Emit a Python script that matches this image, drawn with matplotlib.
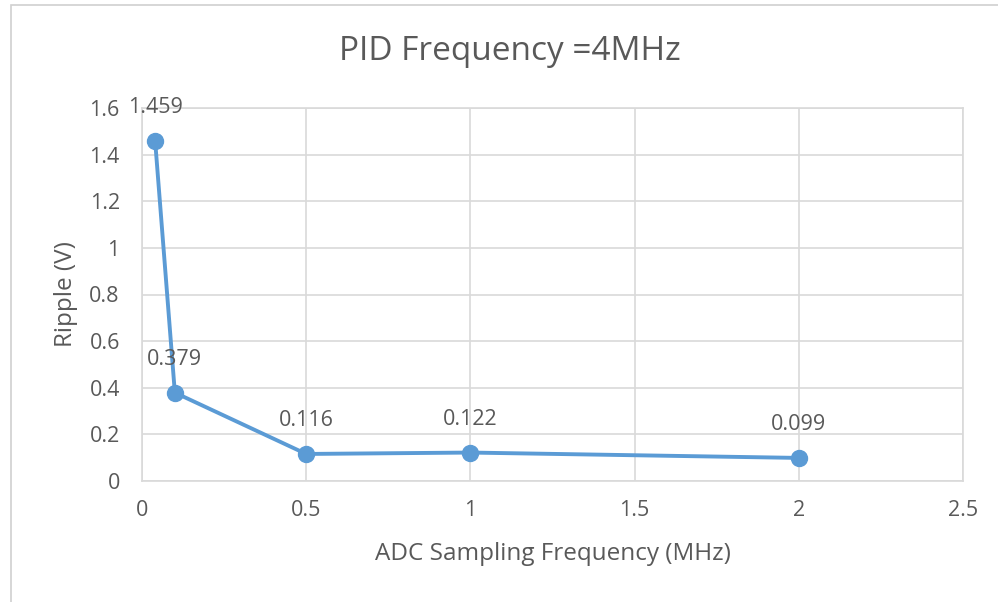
import matplotlib.pyplot as plt
from matplotlib.patches import Rectangle

# ADC sampling frequency (MHz) vs. output ripple (V)
adc_freq = [0.04, 0.1, 0.5, 1.0, 2.0]
ripple = [1.459, 0.379, 0.116, 0.122, 0.099]
point_labels = ["1.459", "0.379", "0.116", "0.122", "0.099"]

x_ticks = [0, 0.5, 1, 1.5, 2, 2.5]
x_tick_labels = ["0", "0.5", "1", "1.5", "2", "2.5"]
y_ticks = [0, 0.2, 0.4, 0.6, 0.8, 1.0, 1.2, 1.4, 1.6]
y_tick_labels = ["0", "0.2", "0.4", "0.6", "0.8", "1", "1.2", "1.4", "1.6"]

plt.rcParams['font.family'] = ['Open Sans', 'DejaVu Sans']
text_col = "#595959"
grid_col = "#d9d9d9"
line_col = "#5b9bd5"

fig = plt.figure(figsize=(9.98, 6.02), dpi=100)

# light frame around the chart area
fig.patches.append(Rectangle((11 / 998, -0.1), 1.2, 1.1 - 5 / 602,
                             transform=fig.transFigure, fill=False,
                             edgecolor="#d0d0d0", linewidth=1.2))

ax = fig.add_axes([142 / 998, 121 / 602, 821 / 998, 373 / 602])

ax.plot(adc_freq, ripple, color=line_col, linewidth=2.8,
        marker="o", markersize=11.5, markerfacecolor=line_col,
        markeredgecolor=line_col, zorder=3, clip_on=False)

for x, y, s in zip(adc_freq, ripple, point_labels):
    ax.annotate(s, (x, y), xytext=(0, 24), textcoords="offset points",
                ha="center", va="center", fontsize=15.5, color=text_col)

ax.set_xlim(0, 2.5)
ax.set_ylim(0, 1.6)
ax.set_xticks(x_ticks)
ax.set_xticklabels(x_tick_labels)
ax.set_yticks(y_ticks)
ax.set_yticklabels(y_tick_labels)
ax.tick_params(axis="both", length=0, labelsize=15.5, labelcolor=text_col)
ax.tick_params(axis="x", pad=14)
ax.tick_params(axis="y", pad=16)

ax.grid(True, color=grid_col, linewidth=1.2)
ax.set_axisbelow(True)
for sp in ax.spines.values():
    sp.set_color(grid_col)
    sp.set_linewidth(1.2)

ax.set_xlabel("ADC Sampling Frequency (MHz)", fontsize=17.5,
              color=text_col, labelpad=15)
ax.set_ylabel("Ripple (V)", fontsize=17.5, color=text_col, labelpad=8)
fig.text(510 / 998, 1 - 52 / 602, "PID Frequency =4MHz", ha="center",
         va="center", fontsize=24, color=text_col)

fig.savefig("out.png", dpi=100)
